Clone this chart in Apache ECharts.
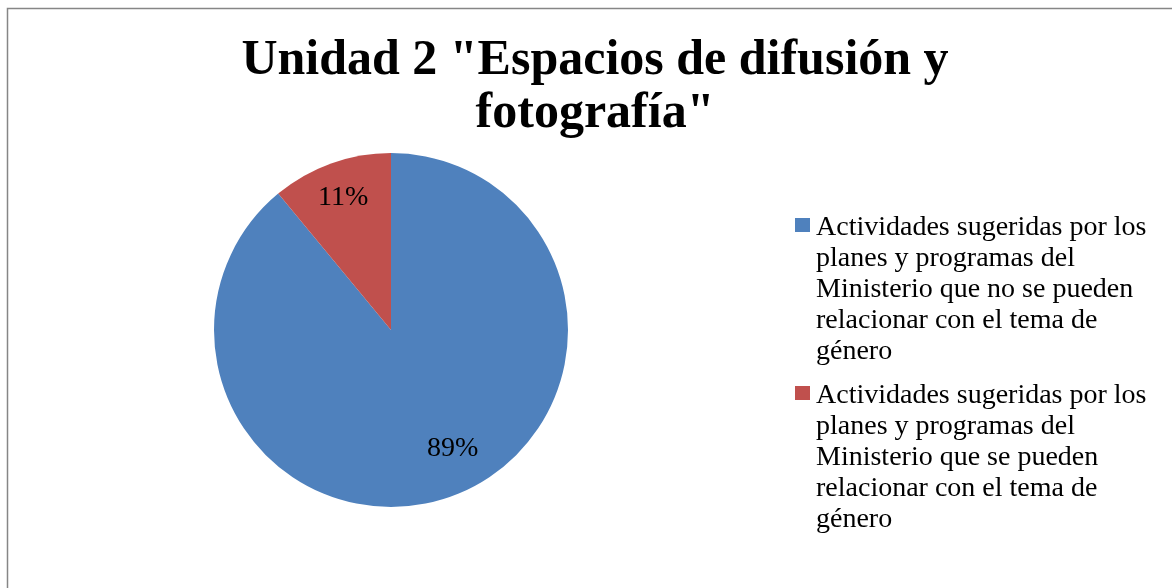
<!DOCTYPE html>
<html>
<head>
<meta charset="utf-8">
<script src="https://cdn.jsdelivr.net/npm/echarts@6/dist/echarts.min.js"></script>
<style>
html,body{margin:0;padding:0;background:#fff;}
#chart{width:1172px;height:588px;}
</style>
</head>
<body>
<div id="chart"></div>
<script>
const titleText = 'Unidad 2 "Espacios de difusión y\nfotografía"';
const categories = [
  'Actividades sugeridas por los planes y programas del Ministerio que no se pueden relacionar con el tema de género',
  'Actividades sugeridas por los planes y programas del Ministerio que se pueden relacionar con el tema de género'
];
const legendLines = [
  ['Actividades sugeridas por los', 'planes y programas del', 'Ministerio que no se pueden', 'relacionar con el tema de', 'género'],
  ['Actividades sugeridas por los', 'planes y programas del', 'Ministerio que se pueden', 'relacionar con el tema de', 'género']
];
const values = [89, 11];
const colors = ['#4F81BD', '#C0504D'];

const FONT = '"Liberation Serif", "DejaVu Serif", serif';
const pieData = categories.map((c, i) => ({ name: c, value: values[i], itemStyle: { color: colors[i] } }));

const chart = echarts.init(document.getElementById('chart'));
chart.setOption({
  animation: false,
  backgroundColor: '#fff',
  graphic: [{
    type: 'rect',
    shape: { x: 7.5, y: 8.5, width: 1300, height: 700 },
    style: { fill: 'none', stroke: '#868686', lineWidth: 1.5 },
    silent: true
  }],
  title: {
    text: titleText,
    left: 595,
    top: 35,
    padding: 0,
    textAlign: 'center',
    textStyle: { fontFamily: FONT, fontWeight: 'bold', fontSize: 50, lineHeight: 53, color: '#000' }
  },
  legend: {
    orient: 'vertical',
    left: 795,
    top: 212,
    padding: 0,
    itemWidth: 15,
    itemHeight: 155,
    itemGap: 13,
    icon: 'path://M0,0L0,0M0,6L15,6L15,20L0,20ZM0,155L0,155',
    data: categories,
    formatter: name => legendLines[categories.indexOf(name)].join('\n'),
    textStyle: { fontFamily: FONT, fontSize: 28, lineHeight: 31, color: '#000', padding: [0, 0, 0, 1] }
  },
  series: [{
    type: 'pie',
    center: [391, 330],
    radius: [0, 177],
    startAngle: 90,
    clockwise: true,
    label: { show: false },
    labelLine: { show: false },
    emphasis: { disabled: true },
    data: pieData
  }, {
    type: 'pie',
    center: [391, 330],
    radius: [0, 276],
    startAngle: 90,
    clockwise: true,
    silent: true,
    itemStyle: { color: 'rgba(0,0,0,0)' },
    label: {
      show: true,
      position: 'inside',
      formatter: '{c}%',
      fontFamily: FONT,
      fontSize: 28,
      color: '#000'
    },
    labelLayout: p => (p.dataIndex === 0 ? { dx: 14, dy: -14 } : {}),
    labelLine: { show: false },
    emphasis: { disabled: true },
    data: categories.map((c, i) => ({ name: c, value: values[i] }))
  }]
});
</script>
</body>
</html>
